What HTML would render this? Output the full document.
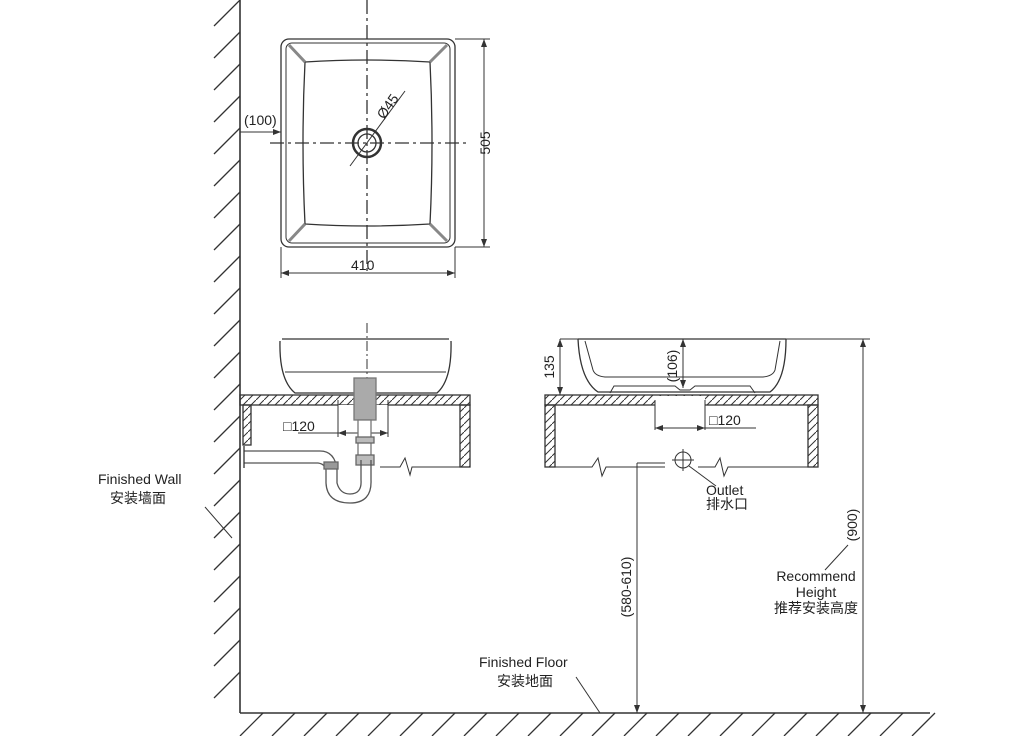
<!DOCTYPE html>
<html><head><meta charset="utf-8"><style>
html,body{margin:0;padding:0;background:#fff;width:1024px;height:736px;overflow:hidden}
svg{display:block}
text{font-family:"Liberation Sans","Noto Sans CJK SC",sans-serif;fill:#222;font-size:14px}
</style></head><body>
<svg width="1024" height="736" viewBox="0 0 1024 736" xmlns="http://www.w3.org/2000/svg">
<defs>
<pattern id="h" width="8" height="8" patternUnits="userSpaceOnUse"><path d="M0 8L8 0" stroke="#333" stroke-width="1"/></pattern>
</defs>
<g stroke="#333" fill="none" stroke-width="1.3">
<line x1="240" y1="0" x2="240" y2="713" stroke-width="1.6"/>
<path d="M214 26L240 0M214 58L240 32M214 90L240 64M214 122L240 96M214 154L240 128M214 186L240 160M214 218L240 192M214 250L240 224M214 282L240 256M214 314L240 288M214 346L240 320M214 378L240 352M214 410L240 384M214 442L240 416M214 474L240 448M214 506L240 480M214 538L240 512M214 570L240 544M214 602L240 576M214 634L240 608M214 666L240 640M214 698L240 672"/>
<line x1="240" y1="713" x2="930" y2="713" stroke-width="1.6"/>
<path d="M240 736L263 713M272 736L295 713M304 736L327 713M336 736L359 713M368 736L391 713M400 736L423 713M432 736L455 713M464 736L487 713M496 736L519 713M528 736L551 713M560 736L583 713M592 736L615 713M624 736L647 713M656 736L679 713M688 736L711 713M720 736L743 713M752 736L775 713M784 736L807 713M816 736L839 713M848 736L871 713M880 736L903 713M912 736L935 713"/>

<rect x="281" y="39" width="174" height="208" rx="8"/>
<rect x="286" y="43" width="164" height="200" rx="6" stroke-width="1"/>
<path d="M305 62Q367 58 430 62Q434 143 430 224Q367 228 305 224Q301 143 305 62Z"/>
<path d="M289 45L305 62M447 45L430 62M289 241L305 224M447 241L430 224" stroke-width="3" stroke="#888"/>
<circle cx="367" cy="143" r="14" stroke-width="2.5"/>
<circle cx="367" cy="143" r="9"/>
<line x1="367" y1="0" x2="367" y2="272" stroke-dasharray="14,4,3,4"/>
<line x1="270" y1="143" x2="466" y2="143" stroke-dasharray="14,4,3,4"/>
<line x1="350" y1="166" x2="405" y2="91" stroke-width="1"/>
<line x1="455" y1="39" x2="490" y2="39" stroke-width="1"/>
<line x1="455" y1="247" x2="490" y2="247" stroke-width="1"/>
<line x1="484" y1="39" x2="484" y2="247" stroke-width="1"/>
<line x1="281" y1="247" x2="281" y2="278" stroke-width="1"/>
<line x1="455" y1="247" x2="455" y2="278" stroke-width="1"/>
<line x1="281" y1="273" x2="455" y2="273" stroke-width="1"/>
<line x1="240" y1="132" x2="281" y2="132" stroke-width="1"/>

<path d="M282 339L449 339M280 341Q279 380 295 393L437 393Q452 380 451 341" />
<line x1="285" y1="372" x2="446" y2="372" stroke-width="1"/>
<line x1="367" y1="323" x2="367" y2="410" stroke-dasharray="10,3,2,3" stroke-width="1"/>
<rect x="240" y="395" width="230" height="10" fill="url(#h)"/>
<rect x="460" y="405" width="10" height="62" fill="url(#h)"/>
<rect x="243" y="405" width="8" height="40" fill="url(#h)"/>
<rect x="338" y="405" width="50" height="30" fill="#fff" stroke="none"/>
<line x1="338" y1="400" x2="338" y2="437" stroke-width="1"/>
<line x1="388" y1="400" x2="388" y2="437" stroke-width="1"/>
<line x1="298" y1="433" x2="388" y2="433" stroke-width="1"/>
<path d="M380 467L400 467L405 458L410 475L412 467L470 467" stroke-width="1"/>
<rect x="354" y="378" width="22" height="42" fill="#aaa" stroke="#777"/>
<rect x="358" y="420" width="13" height="40" fill="#fff" stroke="#777"/>
<rect x="356" y="455" width="18" height="10" fill="#bbb" stroke="#666"/>
<path d="M244 451L320 451Q335 451 337 470L337 483Q340 494 350 494Q362 494 361 480L361 460M371 460L371 480Q372 503 350 503Q327 503 326 483L326 470Q325 464 318 463L244 463" stroke="#555"/>
<rect x="324" y="462" width="14" height="7" fill="#999" stroke="#666"/>
<rect x="356" y="437" width="18" height="6" fill="#bbb" stroke="#666"/>
<line x1="244" y1="446" x2="244" y2="468"/>

<path d="M578 339L786 339M578 339Q580 380 598 392L770 392Q786 380 786 339"/>
<path d="M585 341L593 370Q595 376 605 377L763 377Q773 376 775 370L780 341" stroke-width="1"/>
<path d="M610 393L614 386L675 386L680 390L690 390L695 386L750 386L755 393" stroke-width="1"/>
<line x1="560" y1="339" x2="870" y2="339" stroke-width="1"/>
<line x1="560" y1="339" x2="560" y2="395" stroke-width="1"/>
<line x1="683" y1="339" x2="683" y2="388" stroke-width="1"/>
<rect x="545" y="395" width="273" height="10" fill="url(#h)"/>
<rect x="545" y="405" width="10" height="62" fill="url(#h)"/>
<rect x="808" y="405" width="10" height="62" fill="url(#h)"/>
<rect x="655" y="396" width="50" height="10" fill="#fff" stroke="none"/>
<line x1="655" y1="400" x2="655" y2="430" stroke-width="1"/>
<line x1="705" y1="400" x2="705" y2="430" stroke-width="1"/>
<line x1="655" y1="428" x2="756" y2="428" stroke-width="1"/>
<path d="M545 467L592 467L598 458L602 476L606 467L665 467M698 467L715 467L720 458L724 476L728 467L818 467" stroke-width="1"/>
<circle cx="683" cy="460" r="8" stroke-width="1"/>
<path d="M683 449L683 471M672 460L694 460" stroke-width="1"/>
<line x1="637" y1="463" x2="665" y2="463" stroke-width="1"/>
<line x1="637" y1="463" x2="637" y2="713" stroke-width="1"/>
<line x1="863" y1="339" x2="863" y2="713" stroke-width="1"/>
<line x1="689" y1="466" x2="716" y2="486" stroke-width="1"/>
<line x1="825" y1="570" x2="848" y2="545" stroke-width="1"/>
<line x1="205" y1="507" x2="232" y2="538" stroke-width="1"/>
<line x1="576" y1="677" x2="600" y2="713" stroke-width="1"/>
</g>
<g fill="#333">
<path d="M484 39l-3 8h6zM484 247l-3 -8h6zM281 273l8 -3v6zM455 273l-8 -3v6zM281 132l-8 -3v6zM338 433l8 -3v6zM388 433l-8 -3v6zM655 428l8 -3v6zM705 428l-8 -3v6zM560 339l-3 8h6zM560 395l-3 -8h6zM683 339l-3 8h6zM683 388l-3 -8h6zM863 339l-3 8h6zM863 713l-3 -8h6zM637 713l-3 -8h6z"/>
</g>
<text x="244" y="125">(100)</text>
<text x="351" y="270" font-size="15">410</text>
<text transform="translate(490,143) rotate(-90)" text-anchor="middle" font-size="15">505</text>
<text transform="translate(384,120) rotate(-55)" font-size="15">Ø45</text>
<text x="283" y="431" font-size="15">□120</text>
<text x="709" y="425" font-size="15">□120</text>
<text transform="translate(554,367) rotate(-90)" text-anchor="middle" font-size="15">135</text>
<text transform="translate(677,366) rotate(-90)" text-anchor="middle" font-size="13">(106)</text>
<text transform="translate(631,587) rotate(-90)" text-anchor="middle" font-size="13">(580-610)</text>
<text transform="translate(857,525) rotate(-90)" text-anchor="middle" font-size="13">(900)</text>
<text x="98" y="484" font-size="14">Finished Wall</text>
<text x="110" y="503" font-size="14">安装墙面</text>
<text x="706" y="495" font-size="12">Outlet</text>
<text x="706" y="509" font-size="12">排水口</text>
<text x="816" y="581" font-size="12" text-anchor="middle">Recommend</text>
<text x="816" y="597" font-size="12" text-anchor="middle">Height</text>
<text x="816" y="613" font-size="12" text-anchor="middle">推荐安装高度</text>
<text x="479" y="667" font-size="14">Finished Floor</text>
<text x="497" y="686" font-size="14">安装地面</text>
</svg>
</body></html>
